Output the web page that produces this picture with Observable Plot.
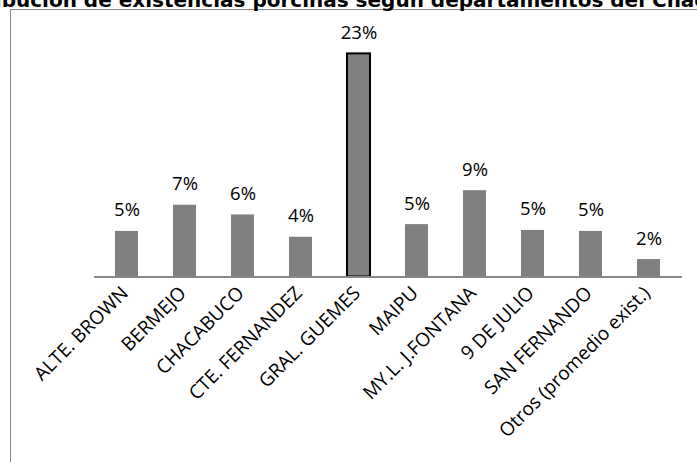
<!DOCTYPE html>
<html>
<head>
<meta charset="utf-8">
<script src="https://cdn.jsdelivr.net/npm/d3@7"></script>
<script src="https://cdn.jsdelivr.net/npm/@observablehq/plot@0.6"></script>
<style>
  html, body { margin: 0; padding: 0; background: #fff; }
  #wrap { position: relative; width: 697px; height: 462px; overflow: hidden; }
  #title { position: absolute; top: 0; left: 330px; white-space: nowrap;
           font-family: "DejaVu Sans", sans-serif; font-weight: bold;
           font-size: 20px; line-height: 20px; color: #000; transform: translate(-50%, -10px); }
  #frame { position: absolute; left: 9.5px; top: 9px; width: 900px; height: 700px;
           border: 1.5px solid #8a8a8a; box-sizing: border-box; }
  #chart { position: absolute; left: 0; top: 0; }
</style>
</head>
<body>
<div id="wrap">
  <div id="frame"></div>
  <div id="title">Distribución de existencias porcinas según departamentos del Chaco</div>
  <div id="chart"></div>
</div>
<script>
const departamentos = ["ALTE. BROWN", "BERMEJO", "CHACABUCO", "CTE. FERNANDEZ", "GRAL. GUEMES",
  "MAIPU", "MY.L. J.FONTANA", "9 DE JULIO", "SAN FERNANDO", "Otros (promedio exist.)"];
const porcentajes = [4.7, 7.4, 6.4, 4.1, 23.0, 5.4, 8.9, 4.8, 4.7, 1.8];
const destacado = "GRAL. GUEMES";

const data = departamentos.map((d, i) => ({depto: d, pct: porcentajes[i]}));

const chart = Plot.plot({
  width: 697,
  height: 462,
  marginLeft: 94,
  marginRight: 15,
  marginTop: 34,
  marginBottom: 185.5,
  style: {fontFamily: "'Open Sans', sans-serif", background: "transparent", color: "#000"},
  x: {domain: departamentos, paddingInner: 0.6, paddingOuter: 0.3, label: null},
  y: {domain: [0, 25], axis: null},
  marks: [
    Plot.barY(data, {x: "depto", y: "pct", fill: "#808080",
      stroke: d => d.depto === destacado ? "#000" : "none", strokeWidth: 2}),
    Plot.ruleY([0], {stroke: "#888", strokeWidth: 2}),
    Plot.text(data, {x: "depto", y: "pct", text: d => Math.round(d.pct) + "%",
      lineAnchor: "bottom", dy: -15, fontSize: 18.5, fill: "#000"}),
    Plot.axisX({tickSize: 0, tickRotate: -45, fontSize: 19, fill: "#000", tickPadding: 13, dx: -2, label: null})
  ]
});
document.getElementById("chart").appendChild(chart);
</script>
</body>
</html>
